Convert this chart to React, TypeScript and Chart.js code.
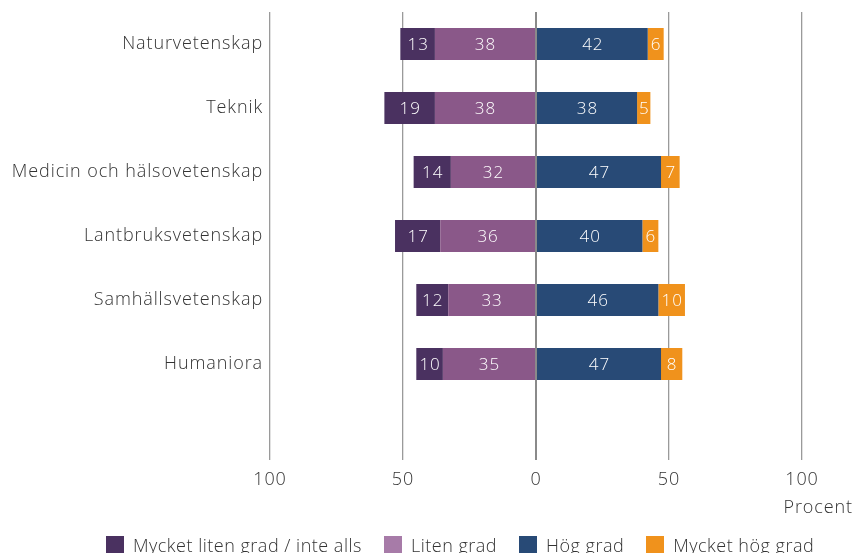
import { useEffect, useRef } from 'react'
import { Chart, registerables, Plugin } from 'chart.js'

Chart.register(...registerables)

// Categories (last one is an empty row, as in the original layout)
const categories = [
  'Naturvetenskap',
  'Teknik',
  'Medicin och hälsovetenskap',
  'Lantbruksvetenskap',
  'Samhällsvetenskap',
  'Humaniora',
  '',
]

// Percent per category
const mycketLiten = [13, 19, 14, 17, 12, 10]
const liten = [38, 38, 32, 36, 33, 35]
const hog = [42, 38, 47, 40, 46, 47]
const mycketHog = [6, 5, 7, 6, 10, 8]

const xTicks = [-100, -50, 0, 50, 100]

const FONT = '"Open Sans", "Noto Sans", sans-serif'
const TEXT = '#333333'
const SPACING = '0.9px'

const legendItems = [
  { label: 'Mycket liten grad / inte alls', color: '#4a3160' },
  { label: 'Liten grad', color: '#a77ba8' },
  { label: 'Hög grad', color: '#284a76' },
  { label: 'Mycket hög grad', color: '#f0921c' },
]

// wider letter spacing, closer to the original typeface
const spacing: Plugin<'bar'> = {
  id: 'spacing',
  beforeDraw(chart) {
    ;(chart.ctx as any).letterSpacing = SPACING
  },
}

// white value labels centred in each bar segment
const valueLabels: Plugin<'bar'> = {
  id: 'valueLabels',
  afterDatasetsDraw(chart) {
    const ctx = chart.ctx
    ctx.save()
    ;(ctx as any).letterSpacing = '1px'
    ctx.fillStyle = '#ffffff'
    ctx.font = `300 17px ${FONT}`
    ctx.textAlign = 'center'
    ctx.textBaseline = 'middle'
    chart.data.datasets.forEach((ds, i) => {
      const meta = chart.getDatasetMeta(i)
      meta.data.forEach((el: any, j) => {
        const v = ds.data[j] as number
        if (v == null) return
        ctx.fillText(String(Math.abs(v)), (el.x + el.base) / 2 + 0.5, el.y + 1)
      })
    })
    ctx.restore()
  },
}

// axis unit under the right end of the x axis
const unitLabel: Plugin<'bar'> = {
  id: 'unitLabel',
  afterDraw(chart) {
    const ctx = chart.ctx
    ctx.save()
    ctx.fillStyle = TEXT
    ctx.font = `300 18px ${FONT}`
    ctx.textAlign = 'right'
    ctx.textBaseline = 'middle'
    ctx.fillText('Procent', chart.width - 2, chart.chartArea.bottom + 48)
    ctx.restore()
  },
}

const App = () => {
  const canvasRef = useRef<HTMLCanvasElement>(null)
  const chartRef = useRef<Chart | null>(null)

  useEffect(() => {
    document.body.style.margin = '0'
    chartRef.current?.destroy()
    if (!canvasRef.current) return

    chartRef.current = new Chart(canvasRef.current, {
      type: 'bar',
      data: {
        labels: categories,
        datasets: [
          { label: 'Liten grad', data: liten.map((v) => -v), backgroundColor: '#8a5889' },
          { label: 'Mycket liten grad / inte alls', data: mycketLiten.map((v) => -v), backgroundColor: '#4a3160' },
          { label: 'Hög grad', data: hog, backgroundColor: '#284a76' },
          { label: 'Mycket hög grad', data: mycketHog, backgroundColor: '#f0921c' },
        ],
      },
      options: {
        indexAxis: 'y',
        responsive: false,
        animation: false,
        layout: { padding: { top: 12, right: 53, left: 0, bottom: 0 } },
        datasets: {
          bar: { barPercentage: 0.5, categoryPercentage: 1, borderWidth: 0 },
        },
        plugins: {
          legend: { display: false },
          tooltip: { enabled: false },
        },
        scales: {
          x: {
            stacked: true,
            min: -100,
            max: 100,
            afterBuildTicks: (scale) => {
              scale.ticks = xTicks.map((v) => ({ value: v }))
            },
            afterFit: (scale) => {
              scale.height = 93
            },
            border: { display: false },
            grid: {
              color: (c) => (c.tick && c.tick.value === 0 ? '#8a8a8a' : '#9a9a9a'),
              lineWidth: (c) => (c.tick && c.tick.value === 0 ? 2 : 1.3),
              drawTicks: false,
            },
            ticks: {
              padding: 9,
              color: TEXT,
              font: { family: FONT, size: 18, weight: 300 },
              callback: (v) => String(Math.abs(Number(v))),
            },
          },
          y: {
            stacked: true,
            afterFit: (scale) => {
              scale.width = 270
            },
            border: { display: false },
            grid: { display: false, drawTicks: false },
            ticks: {
              padding: 7,
              color: TEXT,
              font: { family: FONT, size: 18, weight: 300, lineHeight: 0.5 },
            },
          },
        },
      },
      plugins: [spacing, valueLabels, unitLabel],
    })

    return () => {
      chartRef.current?.destroy()
      chartRef.current = null
    }
  }, [])

  return (
    <div style={{ position: 'relative', width: 855, height: 553, overflow: 'hidden', fontFamily: FONT }}>
      <canvas ref={canvasRef} width={855} height={553} style={{ display: 'block' }} />
      <div
        style={{
          position: 'absolute',
          left: 106,
          top: 533,
          display: 'flex',
          alignItems: 'center',
          whiteSpace: 'nowrap',
          color: TEXT,
          fontSize: 18,
          fontWeight: 300,
          letterSpacing: '0.5px',
        }}
      >
        {legendItems.map((it) => (
          <div key={it.label} style={{ display: 'flex', alignItems: 'center', marginRight: 22 }}>
            <span style={{ width: 18, height: 18, background: it.color, marginRight: 9, display: 'inline-block' }} />
            <span>{it.label}</span>
          </div>
        ))}
      </div>
    </div>
  )
}

export default App
